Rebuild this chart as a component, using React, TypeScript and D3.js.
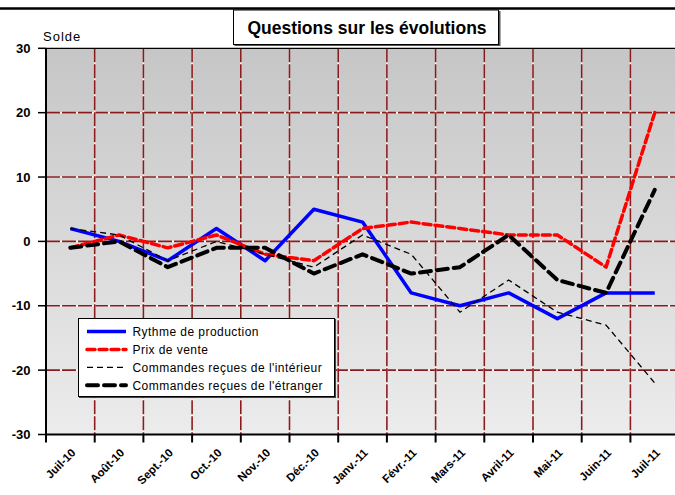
import React from "react";
import * as d3 from "d3";

const categories = ["Juil-10", "Août-10", "Sept.-10", "Oct.-10", "Nov.-10", "Déc.-10", "Janv.-11", "Févr.-11", "Mars-11", "Avril-11", "Mai-11", "Juin-11", "Juil-11"];
const rythme = [2, 0, -3, 2, -3, 5, 3, -8, -10, -8, -12, -8, -8];
const prix = [-1, 1, -1, 1, -2, -3, 2, 3, 2, 1, 1, -4, 20];
const interieur = [2, 1, -3, 0, -2, -4, 1, -2, -11, -6, -11, -13, -22];
const etranger = [-1, 0, -4, -1, -1, -5, -2, -5, -4, 1, -6, -8, 8];
const yTicks = [-30, -20, -10, 0, 10, 20, 30];

const series = [
  { name: "Rythme de production", values: rythme, color: "#0000ff", width: 3.5, dash: "", cap: "butt" },
  { name: "Prix de vente", values: prix, color: "#ff0000", width: 3.5, dash: "8,4", cap: "round" },
  { name: "Commandes reçues de l'intérieur", values: interieur, color: "#000000", width: 1.3, dash: "6,4", cap: "butt" },
  { name: "Commandes reçues de l'étranger", values: etranger, color: "#000000", width: 4, dash: "11,6", cap: "round" },
];

export default function App() {
  const W = 675, H = 495;
  const left = 46, top = 48.3, bottom = 434.5, step = 48.7;
  const right = left + step * categories.length;
  const x = d3.scaleBand<string>().domain(categories).range([left, right]);
  const y = d3.scaleLinear().domain([-30, 30]).range([bottom, top]);
  const cx = (c: string) => (x(c) as number) + x.bandwidth() / 2;
  const line = d3.line<number>().x((_, i) => cx(categories[i])).y((v) => y(v));
  const boundaries = d3.range(categories.length + 1).map((i) => left + i * x.step());
  const font = "'Liberation Sans', Arial, sans-serif";
  const gridColor = "#8b1a1a";

  return (
    <svg width={W} height={H} style={{ position: "absolute", left: 0, top: 0, display: "block" }} fontFamily={font}>
      <defs>
        <linearGradient id="bg" x1="0" y1="0" x2="0" y2="1">
          <stop offset="0" stopColor="#c6c6c6" />
          <stop offset="1" stopColor="#ececec" />
        </linearGradient>
        <clipPath id="plotclip">
          <rect x={left} y={top - 3} width={right - left} height={bottom - top + 6} />
        </clipPath>
      </defs>
      <rect x={0} y={0} width={W} height={H} fill="#ffffff" />
      <rect x={left} y={top} width={right - left} height={bottom - top} fill="url(#bg)" />
      {/* grid */}
      <g>
        {yTicks.filter((t) => t !== -30 && t !== 30).map((t) => (
          <g key={"h" + t}>
            <line x1={left} x2={right} y1={y(t)} y2={y(t)} stroke="#ffffff" strokeWidth={1.5} />
            <line x1={left} x2={right} y1={y(t)} y2={y(t)} stroke={gridColor} strokeWidth={1.6} strokeDasharray="14,2" />
          </g>
        ))}
        {boundaries.slice(1).map((bx, i) => (
          <g key={"v" + i}>
            <line x1={bx} x2={bx} y1={top} y2={bottom} stroke="#ffffff" strokeWidth={1.5} />
            <line x1={bx} x2={bx} y1={top} y2={bottom} stroke={gridColor} strokeWidth={1.6} strokeDasharray="14,2" />
          </g>
        ))}
      </g>
      {/* series */}
      <g clipPath="url(#plotclip)">
        {series.map((s) => (
          <path key={s.name} d={line(s.values) as string} fill="none" stroke={s.color} strokeWidth={s.width}
            strokeDasharray={s.dash || undefined} strokeLinecap={s.cap as any} strokeLinejoin="round" />
        ))}
      </g>
      {/* frame */}
      <line x1={left} x2={right} y1={top} y2={top} stroke="#000" strokeWidth={1.2} />
      <line x1={left} x2={left} y1={top} y2={bottom + 1} stroke="#000" strokeWidth={2} />
      <line x1={left - 1} x2={right} y1={bottom} y2={bottom} stroke="#000" strokeWidth={2} />
      {/* y ticks */}
      {yTicks.map((t) => (
        <g key={"yt" + t}>
          <line x1={left - 8} x2={left} y1={y(t)} y2={y(t)} stroke="#000" strokeWidth={1.5} />
          <text x={30.5} y={y(t)} dy="0.36em" textAnchor="end" fontWeight="bold" fontSize={13} fill="#000">{t}</text>
        </g>
      ))}
      {/* x ticks */}
      {boundaries.map((bx, i) => (
        <line key={"xt" + i} x1={bx} x2={bx} y1={bottom} y2={bottom + 8} stroke="#000" strokeWidth={2} />
      ))}
      {categories.map((c) => (
        <text key={"xl" + c} transform={`translate(${cx(c) + 6},${bottom + 19}) rotate(-45)`} textAnchor="end"
          fontWeight="bold" fontSize={11.5} fill="#000">{c}</text>
      ))}
      <text x={43} y={41} fontSize={13} letterSpacing={1} fill="#000">Solde</text>
      {/* top line & title */}
      <line x1={0} x2={W} y1={8.5} y2={8.5} stroke="#000" strokeWidth={2.5} />
      <rect x={234.5} y={11} width={266} height={35} fill="#555" />
      <rect x={233.5} y={10} width={265} height={34.5} fill="#fff" stroke="#000" strokeWidth={1} />
      <text x={367} y={33.5} textAnchor="middle" fontWeight="bold" fontSize={17.5} fill="#000">Questions sur les évolutions</text>
      {/* legend */}
      <g>
        <rect x={79} y={319} width={257} height={79} fill="#444" />
        <rect x={78.5} y={318.5} width={256} height={78} fill="#fff" stroke="#000" strokeWidth={1} />
        {series.map((s, i) => {
          const ly = 331.5 + i * 17.9;
          return (
            <g key={"lg" + s.name}>
              <line x1={87} x2={126} y1={ly} y2={ly} stroke={s.color} strokeWidth={s.width}
                strokeDasharray={s.dash || undefined} strokeLinecap={s.cap as any} />
              <text x={132.5} y={ly} dy="0.36em" fontSize={12} letterSpacing={0.45} fill="#000">{s.name}</text>
            </g>
          );
        })}
      </g>
    </svg>
  );
}
